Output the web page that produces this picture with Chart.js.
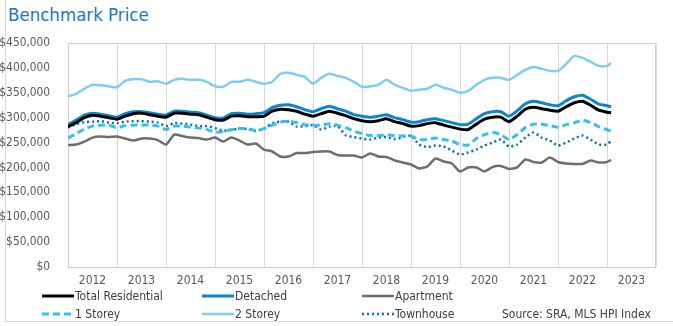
<!DOCTYPE html>
<html lang="en">
<head>
<meta charset="utf-8">
<title>Benchmark Price</title>
<script src="https://cdn.jsdelivr.net/npm/chart.js"></script>
<style>
    html, body { margin: 0; padding: 0; background: #fff; }
    body {
        width: 673px; height: 326px; overflow: hidden; position: relative;
        font-family: 'DejaVu Sans Condensed', 'DejaVu Sans', sans-serif;
    }
    #frame {
        position: absolute; left: 5px; top: -2px; width: 700px; height: 323px;
        border-left: 1px solid #d9d9d9; border-bottom: 1px solid #d9d9d9;
    }
    #title { position: absolute; left: 8px; top: 4px; font-size: 18.5px; color: #1b75c2; }
    #chart { position: absolute; left: 0; top: 0; }
    .sample { position: absolute; }
    .legtext, #source {
        position: absolute; font-size: 12px; color: #404040;
        line-height: 16px; white-space: nowrap;
    }
</style>
</head>
<body>
<div id="frame"></div>
<div id="title">Benchmark Price</div>
<canvas id="chart" width="673" height="326"></canvas>
<div id="legend"></div>
<div id="source" style="left:502px; top:306px;">Source: SRA, MLS HPI Index</div>
<script>
    // months since Jan 2012, every second month, last point Feb 2023
    var monthIdx = [];
    for (var m = 0; m <= 132; m += 2) monthIdx.push(m);
    monthIdx.push(133);

    var yearLabels = ["2012", "2013", "2014", "2015", "2016", "2017", "2018", "2019", "2020", "2021", "2022", "2023"];
    var seriesNames = ["Total Residential", "Detached", "Apartment", "1 Storey", "2 Storey", "Townhouse"];

    // benchmark prices, thousands of dollars
    var totalResidential = [282, 290, 300, 305, 303, 300, 297, 303, 308, 309,
        306, 303, 301, 309, 309, 307, 306, 301, 296, 295,
        303, 304, 302, 302, 303, 313, 317, 316, 313, 307,
        303, 308, 313, 309, 304, 298, 294, 292, 294, 298,
        292, 288, 283, 284, 288, 290, 285, 281, 277, 276,
        287, 297, 301, 301, 292, 303, 317, 321, 318, 315,
        313, 322, 330, 333, 325, 315, 311, 310];
    var detached = [286, 295, 305, 309, 307, 304, 301, 308, 312, 312,
        310, 307, 305, 313, 313, 311, 310, 305, 300, 299,
        308, 309, 307, 308, 310, 320, 325, 326, 322, 316,
        312, 318, 323, 318, 313, 306, 303, 301, 303, 306,
        300, 296, 291, 292, 296, 298, 294, 290, 286, 287,
        298, 308, 312, 312, 303, 314, 328, 333, 330, 326,
        324, 334, 342, 345, 337, 327, 324, 322];
    var apartment = [245, 246, 252, 260, 262, 261, 262, 258, 254, 258,
        258, 255, 246, 266, 263, 260, 259, 256, 260, 252,
        260, 254, 246, 248, 236, 232, 222, 222, 229, 229,
        231, 232, 232, 225, 224, 224, 220, 228, 222, 221,
        214, 210, 206, 198, 202, 218, 212, 208, 192, 200,
        200, 192, 201, 203, 197, 200, 216, 211, 210, 220,
        211, 208, 207, 207, 214, 210, 211, 215];
    var oneStorey = [259, 268, 277, 283, 285, 285, 280, 284, 285, 285,
        285, 283, 276, 283, 283, 281, 279, 276, 271, 272,
        276, 278, 278, 274, 278, 285, 291, 293, 290, 286,
        285, 285, 288, 285, 280, 273, 268, 264, 264, 265,
        264, 263, 263, 256, 256, 259, 256, 253, 246, 245,
        258, 266, 270, 266, 256, 266, 280, 287, 287, 284,
        281, 286, 290, 295, 290, 282, 276, 273];
    var twoStorey = [343, 348, 358, 366, 365, 363, 361, 374, 377, 377,
        372, 373, 368, 376, 378, 376, 376, 372, 363, 362,
        372, 372, 376, 372, 368, 372, 388, 390, 386, 382,
        368, 380, 388, 384, 380, 372, 362, 363, 366, 376,
        366, 360, 354, 356, 358, 366, 360, 356, 350, 354,
        366, 376, 380, 380, 376, 386, 396, 402, 398, 394,
        394, 408, 424, 420, 412, 404, 404, 410];
    var townhouse = [280, 287, 291, 292, 293, 290, 289, 292, 293, 293,
        292, 290, 283, 289, 288, 286, 283, 283, 279, 274,
        275, 278, 277, 273, 278, 288, 292, 292, 282, 283,
        285, 276, 282, 283, 265, 261, 258, 256, 260, 261,
        257, 261, 264, 246, 241, 244, 242, 234, 226, 230,
        236, 244, 250, 256, 242, 246, 260, 270, 260, 254,
        244, 250, 258, 264, 256, 246, 246, 254];

    var values = [totalResidential, detached, apartment, oneStorey, twoStorey, townhouse];
    var lineColors = ["#000000", "#0a85cf", "#6e6e6e", "#35c0f0", "#7fcdf4", "#0e6cb6"];
    var lineWidths = [3, 3, 2.5, 3, 2.5, 2.5];
    var dashes = [[], [], [], [7, 4], [], [2, 3]];

    var datasets = seriesNames.map(function(name, i) {
        return {
            label: name,
            data: values[i].map(function(v, j) {
                return { x: 2012 + monthIdx[j] / 12, y: v * 1000 };
            }),
            borderColor: lineColors[i],
            borderWidth: lineWidths[i],
            borderDash: dashes[i],
            pointRadius: 0,
            tension: 0.2,
            fill: false
        };
    });

    // x ticks: year boundaries carry the grid, mid-years carry the labels
    var xTicks = [];
    for (var k = 0; k <= yearLabels.length; k++) {
        xTicks.push(2012 + k);
        if (k < yearLabels.length) xTicks.push(2012 + k + 0.5);
    }

    var axisFont = { family: "'DejaVu Sans Condensed', 'DejaVu Sans', sans-serif", size: 12 };

    var plotBox = {
        id: "plotBox",
        beforeDatasetsDraw: function(chart) {
            var a = chart.chartArea, c = chart.ctx;
            c.save();
            c.strokeStyle = "#d0d0d0";
            c.lineWidth = 1;
            c.strokeRect(Math.round(a.left) + 0.5, Math.round(a.top) + 0.5,
                Math.round(a.right - a.left) - 1, Math.round(a.bottom - a.top));
            c.restore();
        }
    };

    new Chart(document.getElementById("chart").getContext("2d"), {
        type: "line",
        data: { datasets: datasets },
        options: {
            responsive: false,
            animation: false,
            layout: { padding: { left: 0, right: 17, top: 43, bottom: 0 } },
            plugins: { legend: { display: false }, tooltip: { enabled: false } },
            scales: {
                x: {
                    type: "linear",
                    min: 2012,
                    max: 2024,
                    afterBuildTicks: function(s) {
                        s.ticks = xTicks.map(function(v) { return { value: v }; });
                    },
                    afterFit: function(s) { s.height = 59; },
                    grid: {
                        drawTicks: false,
                        color: function(c) {
                            return c.tick && Number.isInteger(c.tick.value) ? "#d9d9d9" : "rgba(0,0,0,0)";
                        }
                    },
                    border: { display: false },
                    ticks: {
                        autoSkip: false,
                        maxRotation: 0,
                        padding: 7,
                        color: "#595959",
                        font: axisFont,
                        callback: function(v) {
                            return Number.isInteger(v) ? "" : yearLabels[Math.floor(v) - 2012];
                        }
                    }
                },
                y: {
                    min: 0,
                    max: 450000,
                    afterFit: function(s) { s.width = 68; },
                    grid: { display: false },
                    border: { display: false },
                    ticks: {
                        stepSize: 50000,
                        padding: 10,
                        color: "#595959",
                        font: { family: axisFont.family, size: 11.8 },
                        callback: function(v) { return "$" + v.toLocaleString("en-US"); }
                    }
                }
            }
        },
        plugins: [plotBox]
    });

    // legend, three columns by two rows
    var colX = [42, 202, 362];
    var rowY = [296, 314];
    var legend = document.getElementById("legend");
    seriesNames.forEach(function(name, i) {
        var x = colX[i % 3], y = rowY[Math.floor(i / 3)];
        var svg = '<svg class="sample" width="32" height="6" style="left:' + x + 'px;top:' + (y - 3) + 'px">' +
            '<line x1="0" y1="3" x2="32" y2="3" stroke="' + lineColors[i] + '" stroke-width="' + lineWidths[i] + '"' +
            (dashes[i].length ? ' stroke-dasharray="' + dashes[i].join(",") + '"' : '') + '/></svg>';
        legend.insertAdjacentHTML("beforeend", svg +
            '<div class="legtext" style="left:' + (x + 33) + 'px;top:' + (y - 8) + 'px">' + name + '</div>');
    });
</script>
</body>
</html>
